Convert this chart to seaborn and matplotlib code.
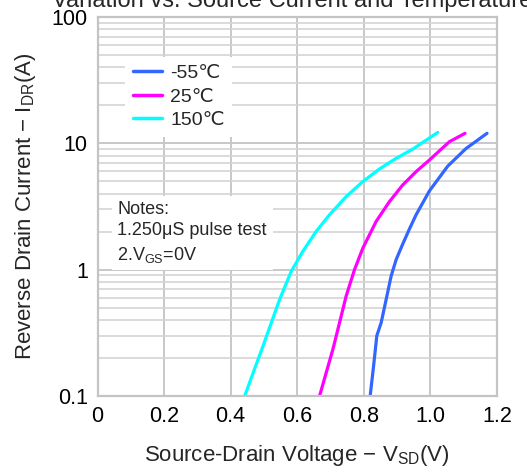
import numpy as np
import pandas as pd
import matplotlib
matplotlib.use("Agg")
import matplotlib.pyplot as plt
import seaborn as sns
from matplotlib.ticker import FixedLocator, NullFormatter
from matplotlib.lines import Line2D

# ---- data ----
temps = ["-55℃", "25℃", "150℃"]
colors = ["#3366ff", "#ff00ff", "#00ffff"]

v_m55 = [0.819, 0.829, 0.839, 0.852, 0.867, 0.882, 0.897, 0.917, 0.937, 0.957, 0.997, 1.052, 1.107, 1.170]
i_m55 = [0.10, 0.17, 0.30, 0.38, 0.58, 0.89, 1.20, 1.60, 2.10, 2.72, 4.20, 6.6, 9.1, 12.0]

v_25 = [0.667, 0.687, 0.707, 0.727, 0.747, 0.772, 0.797, 0.837, 0.877, 0.917, 0.957, 0.997, 1.057, 1.104]
i_25 = [0.10, 0.153, 0.234, 0.38, 0.62, 1.00, 1.48, 2.41, 3.46, 4.69, 5.97, 7.38, 10.3, 12.0]

v_150 = [0.442, 0.497, 0.547, 0.582, 0.617, 0.657, 0.697, 0.747, 0.797, 0.847, 0.897, 0.947, 1.022]
i_150 = [0.10, 0.248, 0.58, 0.97, 1.40, 2.01, 2.72, 3.79, 4.98, 6.27, 7.61, 9.0, 12.2]

x_ticks = [0, 0.2, 0.4, 0.6, 0.8, 1.0, 1.2]
x_ticklabels = ["0", "0.2", "0.4", "0.6", "0.8", "1.0", "1.2"]
y_ticks = [0.1, 1, 10, 100]
y_ticklabels = ["0.1", "1", "10", "100"]

frames = []
for t, v, i in zip(temps, [v_m55, v_25, v_150], [i_m55, i_25, i_150]):
    frames.append(pd.DataFrame({"V": v, "I": i, "T": t}))
df = pd.concat(frames, ignore_index=True)

sns.set_style("white")
plt.rcParams["font.family"] = ["Liberation Sans", "DejaVu Sans"]
plt.rcParams["mathtext.fontset"] = "custom"
plt.rcParams["mathtext.rm"] = "Liberation Sans"
plt.rcParams["mathtext.it"] = "Liberation Sans"

W, H = 527, 473
fig = plt.figure(figsize=(W / 100, H / 100), dpi=100)
L, R, T, B = 97.5, 497, 17, 396
ax = fig.add_axes([L / W, 1 - B / H, (R - L) / W, (B - T) / H])

sns.lineplot(data=df, x="V", y="I", hue="T", hue_order=temps,
             palette=dict(zip(temps, colors)), linewidth=2.3, sort=False,
             estimator=None, ax=ax, legend=False)
for ln in ax.get_lines():
    ln.set_solid_joinstyle("round")
    ln.set_solid_capstyle("round")

ax.set_yscale("log")
ax.set_xlim(0, 1.2)
ax.set_ylim(0.1, 100)
ax.xaxis.set_major_locator(FixedLocator(x_ticks))
ax.set_xticklabels(x_ticklabels)
ax.yaxis.set_major_locator(FixedLocator(y_ticks))
ax.set_yticklabels(y_ticklabels)
minor = [m * 10.0 ** e for e in (-1, 0, 1) for m in range(2, 10)]
ax.yaxis.set_minor_locator(FixedLocator(minor))
ax.yaxis.set_minor_formatter(NullFormatter())
ax.tick_params(axis="both", which="both", length=0, labelsize=15.5, colors="black")
ax.tick_params(axis="x", pad=7)
ax.tick_params(axis="y", pad=7)
ax.set_axisbelow(True)
ax.grid(True, which="major", color="#c8c8c8", linewidth=1.4)
ax.grid(True, which="minor", axis="y", color="#d4d4d4", linewidth=1.2)
for s in ax.spines.values():
    s.set_color("#c4c4c4")
    s.set_linewidth(1.6)

ax.set_xlabel(r"Source-Drain Voltage − $\mathregular{V_{SD}}$(V)", fontsize=16, labelpad=12)
ax.set_ylabel(r"Reverse Drain Current − $\mathregular{I_{DR}}$(A)", fontsize=16, labelpad=10)

fig.text(0.555, 1 - 7 / H, "Variation vs. Source Current and Temperature",
         ha="center", va="baseline", fontsize=17)

handles = [Line2D([], [], color=c, linewidth=2.5) for c in colors]
leg = ax.legend(handles, temps, loc="upper left", bbox_to_anchor=(0.07, 0.895),
                frameon=True, fancybox=False, edgecolor="white", facecolor="white",
                framealpha=1, fontsize=14, handlelength=1.5, handletextpad=0.4,
                borderaxespad=0, labelspacing=0.3)
leg.get_frame().set_linewidth(0)

ax.text(0.05, 0.515, "Notes:\n1.250μS pulse test\n2.V$\\mathregular{_{GS}}$=0V",
        transform=ax.transAxes, ha="left", va="top", fontsize=13, linespacing=1.35,
        bbox=dict(facecolor="white", edgecolor="none", pad=4))

fig.savefig("out.png", dpi=100)
